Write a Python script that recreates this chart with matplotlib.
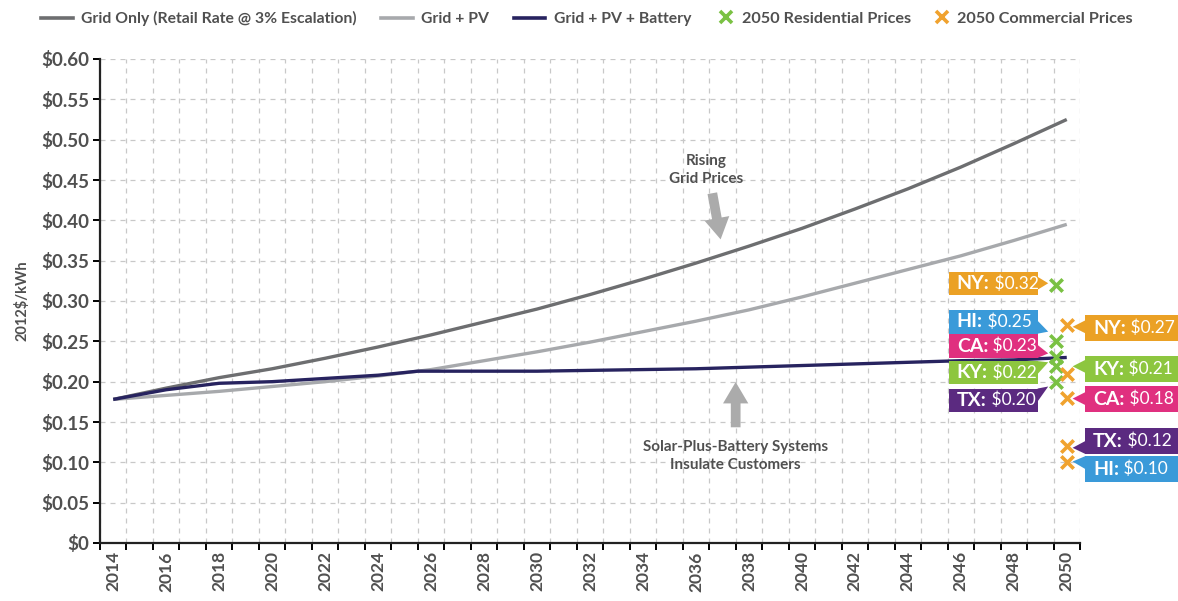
import matplotlib
matplotlib.use('Agg')
import matplotlib.pyplot as plt
from matplotlib.lines import Line2D
from matplotlib.patches import Rectangle, Polygon
import numpy as np

plt.rcParams['font.family'] = ['Lato', 'DejaVu Sans']

years = [2014, 2016, 2018, 2020, 2022, 2024, 2026, 2028, 2030, 2032,
         2034, 2036, 2038, 2040, 2042, 2044, 2046, 2048, 2050]
grid_only = [0.178, 0.192, 0.205, 0.216, 0.229, 0.243, 0.258, 0.274, 0.290, 0.308,
             0.327, 0.347, 0.368, 0.390, 0.414, 0.439, 0.466, 0.495, 0.525]
grid_pv = [0.178, 0.183, 0.188, 0.194, 0.200, 0.207, 0.215, 0.226, 0.237, 0.249,
           0.262, 0.275, 0.289, 0.305, 0.322, 0.339, 0.356, 0.375, 0.395]
battery_years = [2014, 2016, 2018, 2020, 2022, 2024, 2025.5, 2026, 2028, 2030, 2032,
                 2034, 2036, 2038, 2040, 2042, 2044, 2046, 2048, 2050]
grid_pv_batt = [0.178, 0.190, 0.198, 0.200, 0.204, 0.208, 0.213, 0.213, 0.213, 0.213, 0.214,
                0.215, 0.216, 0.218, 0.220, 0.222, 0.224, 0.226, 0.227, 0.230]

res_states = ['NY', 'HI', 'CA', 'KY', 'TX']
res_prices = [0.32, 0.25, 0.23, 0.22, 0.20]
com_states = ['NY', 'KY', 'CA', 'TX', 'HI']
com_prices = [0.27, 0.21, 0.18, 0.12, 0.10]

state_colors = {'NY': '#EBA125', 'HI': '#3A9AD9', 'CA': '#E0307F',
                'KY': '#8DC63F', 'TX': '#5B2A80'}

# label layout (y centres of the boxes, and the pointer tip heights)
res_label_y = [0.322, 0.274, 0.244, 0.211, 0.177]
res_tip_y = [0.322, 0.262, 0.235, 0.224, 0.194]
com_label_y = [0.2665, 0.2157, 0.1785, 0.1264, 0.0917]
com_tip_y = [0.268, 0.219, 0.179, 0.118, 0.101]

C_TEXT = '#505050'
C_GRID = '#C8C8C8'

fig = plt.figure(figsize=(11.78, 6.01), dpi=100)
ax = fig.add_axes([100 / 1178, 58 / 601, 980 / 1178, 484 / 601])

ax.plot(years, grid_only, color='#6D6E70', lw=2.4, solid_capstyle='butt', zorder=3)
ax.plot(years, grid_pv, color='#A7A9AC', lw=2.4, solid_capstyle='butt', zorder=3)
ax.plot(battery_years, grid_pv_batt, color='#27235F', lw=2.4, solid_capstyle='butt', zorder=4)

res_x = 2049.6
com_x = 2050.0
ax.scatter([res_x] * len(res_prices), res_prices, marker='x', s=80, lw=2.6,
           color='#7AC143', zorder=6, clip_on=False)
ax.scatter([com_x] * len(com_prices), com_prices, marker='x', s=80, lw=2.6,
           color='#F0A22E', zorder=6, clip_on=False)

ax.set_xlim(2013.5, 2050.5)
ax.set_ylim(0, 0.6)

# axes styling
for s in ['top', 'right']:
    ax.spines[s].set_visible(False)
for s in ['left', 'bottom']:
    ax.spines[s].set_linewidth(1.6)
    ax.spines[s].set_color('#222222')

yt = np.arange(0, 0.601, 0.05)
ax.set_yticks(yt)
ax.set_yticklabels(['$0'] + ['$%.2f' % v for v in yt[1:]])
ax.tick_params(axis='y', length=5, width=1.4, labelsize=13.5, labelcolor=C_TEXT, pad=3)
for lbl in ax.get_yticklabels():
    lbl.set_fontweight('bold')

ax.set_xticks(np.arange(2013.5, 2051, 1.0))
ax.set_xticklabels([])
ax.tick_params(axis='x', which='major', length=5, width=1.4)
ax.set_xticks(np.arange(2014, 2051, 2), minor=True)
ax.set_xticklabels([str(y) for y in range(2014, 2051, 2)], minor=True,
                   rotation=90, fontsize=12.5, color=C_TEXT, fontweight='bold')
ax.tick_params(axis='x', which='minor', length=0, pad=6)

ax.grid(True, which='major', color=C_GRID, ls=(0, (4, 4)), lw=0.9)
ax.set_axisbelow(True)

ax.set_ylabel('2012$/kWh', fontsize=10.5, color=C_TEXT, fontweight='bold', labelpad=8)

# annotations
arrow_kw = dict(arrowstyle='simple,head_length=1.1,head_width=1.3,tail_width=0.5',
                color='#ABABAB', lw=0, mutation_scale=14)
ax.text(2036.4, 0.462, 'Rising\nGrid Prices', ha='center', va='center', fontsize=11,
        color=C_TEXT, fontweight='bold', linespacing=1.35)
ax.annotate('', xy=(2036.95, 0.373), xytext=(2036.6, 0.437), arrowprops=arrow_kw)
ax.text(2037.5, 0.108, 'Solar-Plus-Battery Systems\nInsulate Customers', ha='center',
        va='center', fontsize=11, color=C_TEXT, fontweight='bold', linespacing=1.35)
ax.annotate('', xy=(2037.5, 0.203), xytext=(2037.5, 0.140), arrowprops=arrow_kw)


def draw_tag(state, price, x0, x1, yc, tip_x, tip_y, h):
    col = state_colors[state]
    ax.add_patch(Rectangle((x0, yc - h / 2), x1 - x0, h, facecolor=col,
                           edgecolor='none', clip_on=False, zorder=7))
    base_x = x1 if tip_x > x1 else x0
    ty0 = min(max(tip_y - 0.008, yc - h / 2), yc + h / 2 - 0.016)
    ax.add_patch(Polygon([(base_x, ty0), (base_x, ty0 + 0.016), (tip_x, tip_y)],
                         closed=True, facecolor=col, edgecolor='none',
                         clip_on=False, zorder=7))
    t1 = ax.text(x0 + 0.3, yc, state + ':', ha='left', va='center', fontsize=14,
                 fontweight='bold', color='white', zorder=8, clip_on=False)
    ax.annotate(' $%.2f' % price, xy=(1, 0.5), xycoords=t1, ha='left', va='center',
                fontsize=12.5, color='white', zorder=8, annotation_clip=False)


for st, pr, yc, ty in zip(res_states, res_prices, res_label_y, res_tip_y):
    draw_tag(st, pr, 2045.55, 2048.9, yc, 2049.3, ty, 0.029)

for st, pr, yc, ty in zip(com_states, com_prices, com_label_y, com_tip_y):
    draw_tag(st, pr, 2050.7, 2054.3, yc, 2050.22, ty, 0.032)

# legend: lines and markers in two groups so the marker handles stay short
line_handles = [
    Line2D([], [], color='#6D6E70', lw=2.6),
    Line2D([], [], color='#A7A9AC', lw=2.6),
    Line2D([], [], color='#27235F', lw=2.6),
]
line_labels = ['Grid Only (Retail Rate @ 3% Escalation)', 'Grid + PV', 'Grid + PV + Battery']
mark_handles = [
    Line2D([], [], color='#7AC143', marker='x', ls='none', ms=9, mew=2.6),
    Line2D([], [], color='#F0A22E', marker='x', ls='none', ms=9, mew=2.6),
]
mark_labels = ['2050 Residential Prices', '2050 Commercial Prices']

leg1 = fig.legend(line_handles, line_labels, loc='upper left', bbox_to_anchor=(0.023, 1.005),
                  ncol=3, frameon=False, fontsize=11.3, handlelength=2.0,
                  handletextpad=0.55, columnspacing=1.55)
leg2 = fig.legend(mark_handles, mark_labels, loc='upper left', bbox_to_anchor=(0.598, 1.005),
                  ncol=2, frameon=False, fontsize=11.7, handlelength=0.9,
                  handletextpad=0.5, columnspacing=1.45)
for leg in (leg1, leg2):
    for t in leg.get_texts():
        t.set_color(C_TEXT)
        t.set_fontweight('bold')

fig.savefig('out.png', dpi=100, facecolor='white')
plt.close(fig)
